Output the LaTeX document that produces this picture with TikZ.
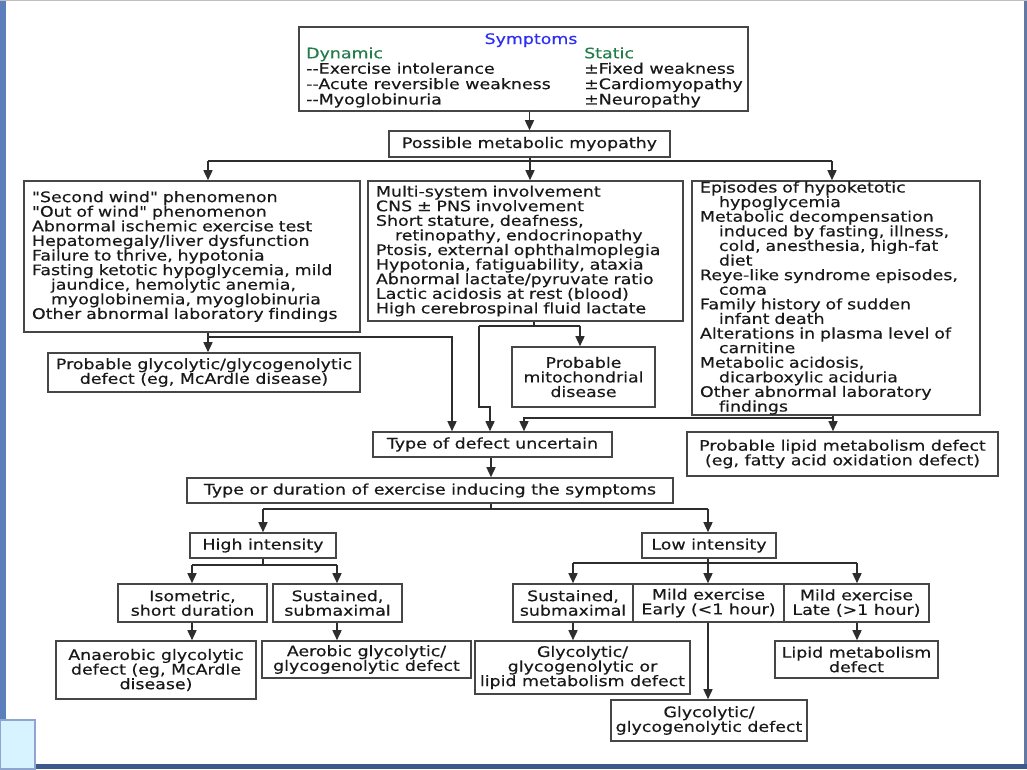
\documentclass[tikz,border=0pt]{standalone}
\usepackage{fontspec}
\setmainfont{DejaVu Sans}[FakeStretch=1.2, FakeBold=0.35, Ligatures={TeXOff,CommonOff}]
\usetikzlibrary{arrows.meta}
\definecolor{boxc}{RGB}{70,70,70}
\definecolor{lnc}{RGB}{45,45,45}
\definecolor{txt}{RGB}{25,25,25}
\definecolor{blu}{RGB}{45,45,245}
\definecolor{grn}{RGB}{35,125,75}
\definecolor{slide}{RGB}{92,126,186}
\definecolor{slidedark}{RGB}{60,88,140}
\definecolor{pale}{RGB}{215,243,255}
\newcommand\dfont{\fontsize{14.5}{14.6}\selectfont}
\newcommand\ind{\hspace*{19pt}}
\begin{document}
\begin{tikzpicture}[x=1pt,y=-1pt,
  box/.style={draw=boxc, line width=1.6pt, inner sep=0pt, font=\dfont, text=txt, align=center, fill=white},
  lbox/.style={box, align=left, inner xsep=8pt},
  ln/.style={draw=lnc, line width=1.5pt},
  arr/.style={ln, -{Triangle[length=10pt,width=9pt]}},
  lbl/.style={inner sep=0pt, font=\dfont, text=txt}]
\useasboundingbox (0,0) rectangle (1027,769);
% slide frame
\fill[white] (0,0) rectangle (1027,769);
\fill[slide] (0,0) rectangle (6,720);
\fill[slidedark] (0,764) rectangle (1027,769);
\fill[slidedark!80] (1024,0) rectangle (1027,764);
\fill[black!25] (0,0) rectangle (1027,1);
\draw[fill=pale, draw=slide!70, line width=1.2pt] (0,720) rectangle (35,769);

% symptoms box
\node[box, minimum width=449pt, minimum height=84pt] (sym) at (523.5,69) {};
\node[lbl, anchor=base, text=blu] (symt) at (531,44) {Symptoms};
\node[lbl, anchor=base west] (dyn) at (306,58.3) {\begin{tabular}[t]{@{}l@{}}\textcolor{grn}{Dynamic}\\--Exercise intolerance\\--Acute reversible weakness\\--Myoglobinuria\end{tabular}};
\node[lbl, anchor=base west] (sta) at (584,58.3) {\begin{tabular}[t]{@{}l@{}}\textcolor{grn}{Static}\\±Fixed weakness\\±Cardiomyopathy\\±Neuropathy\end{tabular}};

\node[box, minimum width=281pt, minimum height=26pt] (pmm) at (529.5,144) {Possible metabolic myopathy};

% three columns
\node[lbox, minimum width=336pt, minimum height=151pt, text width=320pt] (L) at (192,256.5) {"Second wind" phenomenon\\"Out of wind" phenomenon\\Abnormal ischemic exercise test\\Hepatomegaly/liver dysfunction\\Failure to thrive, hypotonia\\Fasting ketotic hypoglycemia, mild\\\ind jaundice, hemolytic anemia,\\\ind myoglobinemia, myoglobinuria\\Other abnormal laboratory findings};
\node[lbox, minimum width=315pt, minimum height=140pt, text width=299pt] (M) at (525.5,251) {Multi-system involvement\\CNS ± PNS involvement\\Short stature, deafness,\\\ind retinopathy, endocrinopathy\\Ptosis, external ophthalmoplegia\\Hypotonia, fatiguability, ataxia\\Abnormal lactate/pyruvate ratio\\Lactic acidosis at rest (blood)\\High cerebrospinal fluid lactate};
\node[lbox, minimum width=288pt, minimum height=234pt, text width=272pt] (R) at (836,298) {Episodes of hypoketotic\\\ind hypoglycemia\\Metabolic decompensation\\\ind induced by fasting, illness,\\\ind cold, anesthesia, high-fat\\\ind diet\\Reye-like syndrome episodes,\\\ind coma\\Family history of sudden\\\ind infant death\\Alterations in plasma level of\\\ind carnitine\\Metabolic acidosis,\\\ind dicarboxylic aciduria\\Other abnormal laboratory\\\ind findings};

\node[box, minimum width=312pt, minimum height=39pt] (g1) at (204,372.5) {Probable glycolytic/glycogenolytic\\defect (eg, McArdle disease)};
\node[box, minimum width=143pt, minimum height=60pt] (mito) at (583.5,377) {Probable\\mitochondrial\\disease};
\node[box, minimum width=311pt, minimum height=44pt] (lp) at (842.5,454) {Probable lipid metabolism defect\\(eg, fatty acid oxidation defect)};

\node[box, minimum width=239pt, minimum height=25pt] (tdu) at (492.5,444.5) {Type of defect uncertain};
\node[box, minimum width=486pt, minimum height=25pt] (tde) at (430,490.5) {Type or duration of exercise inducing the symptoms};

\node[box, minimum width=146pt, minimum height=25pt] (hi) at (263,545.5) {High intensity};
\node[box, minimum width=134pt, minimum height=25pt] (lo) at (709,545.5) {Low intensity};

\node[box, minimum width=149pt, minimum height=38pt] (iso) at (192.5,603) {Isometric,\\short duration};
\node[box, minimum width=129pt, minimum height=38pt] (sus1) at (337.5,603) {Sustained,\\submaximal};
\node[box, minimum width=120pt, minimum height=38pt] (sus2) at (573,603) {Sustained,\\submaximal};
\node[box, minimum width=151pt, minimum height=38pt] (mee) at (708.5,603) {Mild exercise\\Early (<1 hour)};
\node[box, minimum width=145pt, minimum height=38pt] (mle) at (856.5,603) {Mild exercise\\Late (>1 hour)};

\node[box, minimum width=200pt, minimum height=58pt] (ana) at (156,670) {Anaerobic glycolytic\\defect (eg, McArdle\\disease)};
\node[box, minimum width=209pt, minimum height=37pt] (aer) at (366.5,659.5) {Aerobic glycolytic/\\glycogenolytic defect};
\node[box, minimum width=215pt, minimum height=53pt] (gol) at (582.5,667.5) {Glycolytic/\\glycogenolytic or\\lipid metabolism defect};
\node[box, minimum width=196pt, minimum height=41pt] (ggd) at (709,720.5) {Glycolytic/\\glycogenolytic defect};
\node[box, minimum width=163pt, minimum height=37pt] (lmd) at (856.5,659.5) {Lipid metabolism\\defect};

% connectors: top
\draw[arr] (pmm.north |- sym.south) -- (pmm.north);
\coordinate (t0) at (530,161);
\coordinate (tL) at (208,161);
\coordinate (tR) at (832,161);
\draw[ln] (t0 |- pmm.south) -- (t0);
\draw[ln] (tL) -- (tR);
\draw[arr] (tL) -- (tL |- L.north);
\draw[arr] (t0) -- (t0 |- M.north);
\draw[arr] (tR) -- (tR |- R.north);

% left column
\coordinate (a1) at (208,337);
\coordinate (a2) at (452,337);
\draw[ln] (a1 |- L.south) -- (a1);
\draw[arr] (a1) -- (a1 |- g1.north);
\draw[arr] (a1) -- (a2) -- (a2 |- tdu.north);

% middle column
\coordinate (b0) at (534,326);
\coordinate (b1) at (479,326);
\coordinate (b2) at (580,326);
\coordinate (b3) at (479,407);
\coordinate (b4) at (490,407);
\draw[ln] (b0 |- M.south) -- (b0);
\draw[ln] (b1) -- (b2);
\draw[arr] (b2) -- (b2 |- mito.north);
\draw[arr] (b1) -- (b3) -- (b4) -- (b4 |- tdu.north);

% right column
\coordinate (c0) at (833,418);
\coordinate (c1) at (524,418);
\draw[ln] (c0 |- R.south) -- (c0);
\draw[arr] (c0) -- (c0 |- lp.north);
\draw[arr] (c0) -- (c1) -- (c1 |- tdu.north);

% exercise type
\coordinate (d0) at (491,509);
\coordinate (dL) at (263,509);
\coordinate (dR) at (708,509);
\draw[arr] (d0 |- tdu.south) -- (d0 |- tde.north);
\draw[ln] (d0 |- tde.south) -- (d0);
\draw[ln] (dL) -- (dR);
\draw[arr] (dL) -- (dL |- hi.north);
\draw[arr] (dR) -- (dR |- lo.north);

% high intensity
\coordinate (e0) at (263,565);
\coordinate (eL) at (192,565);
\coordinate (eR) at (337,565);
\draw[ln] (e0 |- hi.south) -- (e0);
\draw[ln] (eL) -- (eR);
\draw[arr] (eL) -- (eL |- iso.north);
\draw[arr] (eR) -- (eR |- sus1.north);
\draw[arr] (eL |- iso.south) -- (eL |- ana.north);
\draw[arr] (eR |- sus1.south) -- (eR |- aer.north);

% low intensity
\coordinate (f0) at (708,563);
\coordinate (fL) at (573,563);
\coordinate (fR) at (857,563);
\draw[ln] (f0 |- lo.south) -- (f0);
\draw[ln] (fL) -- (fR);
\draw[arr] (fL) -- (fL |- sus2.north);
\draw[arr] (f0) -- (f0 |- mee.north);
\draw[arr] (fR) -- (fR |- mle.north);
\draw[arr] (fL |- sus2.south) -- (fL |- gol.north);
\draw[arr] (f0 |- mee.south) -- (f0 |- ggd.north);
\draw[arr] (fR |- mle.south) -- (fR |- lmd.north);
\end{tikzpicture}
\end{document}
